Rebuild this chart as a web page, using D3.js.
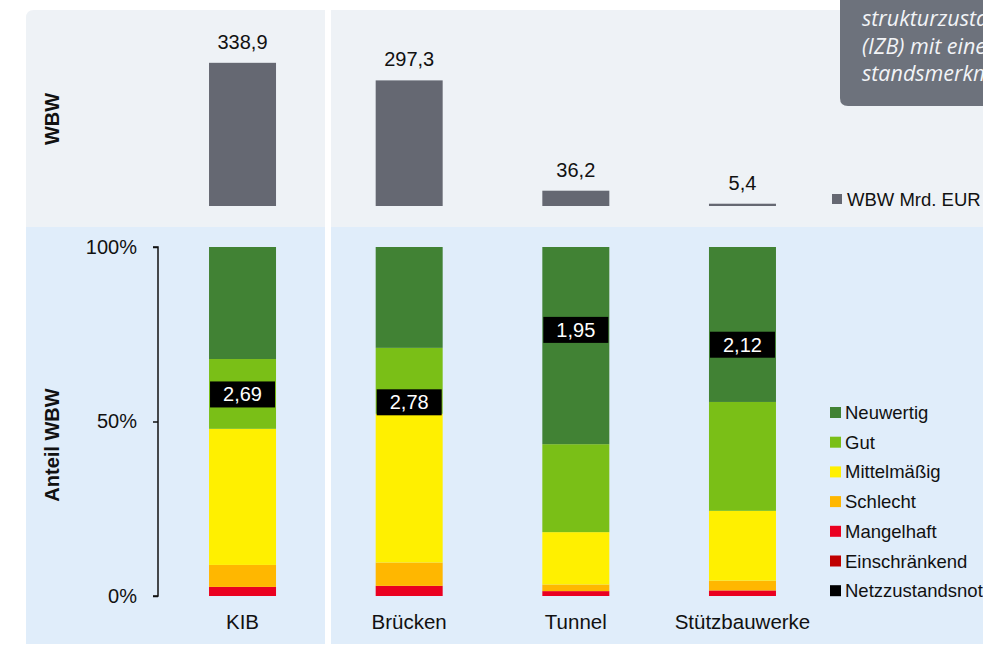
<!DOCTYPE html>
<html>
<head>
<meta charset="utf-8">
<script src="https://cdn.jsdelivr.net/npm/d3@7"></script>
<style>
  html, body { margin: 0; padding: 0; background: #fff; overflow: hidden; }
  svg { display: block; font-family: "Liberation Sans", Arial, sans-serif; }
</style>
</head>
<body>
<div class="chart"></div>
<script>
(function() {

	var width = 983,
		height = 646;

	// data
	var categories = ['KIB', 'Brücken', 'Tunnel', 'Stützbauwerke'];
	var wbw = [338.9, 297.3, 36.2, 5.4];
	var notes = [2.69, 2.78, 1.95, 2.12];

	var classes = ['Einschränkend', 'Mangelhaft', 'Schlecht', 'Mittelmäßig', 'Gut', 'Neuwertig'];
	var einschraenkend = [0, 0, 0, 0];
	var mangelhaft = [2.6, 2.9, 1.4, 1.6];
	var schlecht = [6.3, 6.7, 1.9, 2.8];
	var mittelmaessig = [39.0, 42.6, 15.0, 20.0];
	var gut = [20.0, 18.9, 25.2, 31.2];
	var neuwertig = [32.1, 28.9, 56.5, 44.4];

	var legendLabels = ['Neuwertig', 'Gut', 'Mittelmäßig', 'Schlecht', 'Mangelhaft', 'Einschränkend', 'Netzzustandsnote'];
	var yTicks = [0, 50, 100];
	var boxLines = ['strukturzustandsbericht', '(IZB) mit einer', 'standsmerkmalen'];

	var colors = {
		'Einschränkend': '#c00000',
		'Mangelhaft': '#ea0020',
		'Schlecht': '#ffb700',
		'Mittelmäßig': '#fff000',
		'Gut': '#7abf17',
		'Neuwertig': '#418234',
		'Netzzustandsnote': '#000000'
	};

	var series = [einschraenkend, mangelhaft, schlecht, mittelmaessig, gut, neuwertig];
	var rows = categories.map(function(c, i) {
		var r = {cat: c};
		classes.forEach(function(k, j) { r[k] = series[j][i]; });
		return r;
	});

	var svg = d3.select('.chart').append('svg')
			.attr('width', width)
			.attr('height', height);

	// panels
	var topY = 10, midY = 227, botY = 644, sepX = 325, sepW = 6;
	svg.append('path')
		.attr('d', 'M26,' + (topY + 8) + ' Q26,' + topY + ' 34,' + topY + ' H' + sepX + ' V' + midY + ' H26 Z')
		.attr('fill', '#eef2f6');
	svg.append('rect').attr('x', sepX + sepW).attr('y', topY)
		.attr('width', width - sepX - sepW).attr('height', midY - topY).attr('fill', '#eef2f6');
	svg.append('rect').attr('x', 26).attr('y', midY)
		.attr('width', sepX - 26).attr('height', botY - midY).attr('fill', '#e0edfa');
	svg.append('rect').attr('x', sepX + sepW).attr('y', midY)
		.attr('width', width - sepX - sepW).attr('height', botY - midY).attr('fill', '#e0edfa');

	// scales
	var x = d3.scaleBand()
		.domain(categories)
		.range([159.2, 825.8])
		.paddingInner(0.598)
		.paddingOuter(0.299);

	var yTop = d3.scaleLinear().domain([0, 400]).range([206, 37]);
	var y = d3.scaleLinear().domain([0, 100]).range([596, 247]);
	var yNote = d3.scaleLinear().domain([1, 5]).range([247, 596]);

	// WBW bars
	var gTop = svg.append('g').attr('class', 'wbw');
	gTop.selectAll('rect').data(wbw).enter().append('rect')
		.attr('x', function(d, i) { return x(categories[i]); })
		.attr('y', function(d) { return yTop(d); })
		.attr('width', x.bandwidth())
		.attr('height', function(d) { return Math.max(2, yTop(0) - yTop(d)); })
		.attr('fill', '#656872');
	gTop.selectAll('text').data(wbw).enter().append('text')
		.attr('x', function(d, i) { return x(categories[i]) + x.bandwidth() / 2; })
		.attr('y', function(d) { return yTop(d) - 14; })
		.attr('text-anchor', 'middle')
		.attr('font-size', 20)
		.attr('fill', '#111')
		.text(function(d) { return d3.format('.1f')(d).replace('.', ','); });

	// stacked bars
	var stack = d3.stack().keys(classes)(rows);
	var gStack = svg.append('g').attr('class', 'stack');
	gStack.selectAll('g').data(stack).enter().append('g')
		.attr('fill', function(d) { return colors[d.key]; })
		.selectAll('rect').data(function(d) { return d; }).enter().append('rect')
		.attr('x', function(d) { return x(d.data.cat); })
		.attr('y', function(d) { return y(d[1]); })
		.attr('width', x.bandwidth())
		.attr('height', function(d) { return y(d[0]) - y(d[1]); });

	// note labels
	var gNote = svg.append('g').attr('class', 'notes');
	gNote.selectAll('rect').data(notes).enter().append('rect')
		.attr('x', function(d, i) { return x(categories[i]) + 1; })
		.attr('y', function(d) { return yNote(d) - 13; })
		.attr('width', x.bandwidth() - 2)
		.attr('height', 26)
		.attr('fill', '#000');
	gNote.selectAll('text').data(notes).enter().append('text')
		.attr('x', function(d, i) { return x(categories[i]) + x.bandwidth() / 2; })
		.attr('y', function(d) { return yNote(d) + 7; })
		.attr('text-anchor', 'middle')
		.attr('font-size', 20)
		.attr('fill', '#fff')
		.text(function(d) { return d3.format('.2f')(d).replace('.', ','); });

	// y axis
	var yAxis = svg.append('g')
		.attr('transform', 'translate(158,0)')
		.call(d3.axisLeft(y).tickValues(yTicks).tickSize(5).tickPadding(16)
			.tickFormat(function(d) { return d + '%'; }));
	yAxis.select('.domain').attr('stroke', '#111').attr('stroke-width', 1.5)
		.attr('d', 'M-5,' + y(0) + 'H0V' + y(100) + 'H-5');
	yAxis.selectAll('.tick line').attr('stroke', '#111').attr('stroke-width', 1.5);
	yAxis.selectAll('.tick text')
		.attr('font-size', 20)
		.attr('font-family', '"Liberation Sans", Arial, sans-serif')
		.attr('fill', '#111');

	// category labels
	svg.append('g').selectAll('text').data(categories).enter().append('text')
		.attr('x', function(d) { return x(d) + x.bandwidth() / 2; })
		.attr('y', 629)
		.attr('text-anchor', 'middle')
		.attr('font-size', 20.5)
		.attr('fill', '#111')
		.text(function(d) { return d; });

	// axis titles
	svg.append('text')
		.attr('transform', 'translate(59,119) rotate(-90)')
		.attr('text-anchor', 'middle')
		.attr('font-size', 20).attr('font-weight', 'bold').attr('fill', '#111')
		.text('WBW');
	svg.append('text')
		.attr('transform', 'translate(59,445) rotate(-90)')
		.attr('text-anchor', 'middle')
		.attr('font-size', 20).attr('font-weight', 'bold').attr('fill', '#111')
		.text('Anteil WBW');

	// legends
	var topLeg = svg.append('g').attr('transform', 'translate(832,199)');
	topLeg.append('rect').attr('x', 0).attr('y', -5).attr('width', 10).attr('height', 10).attr('fill', '#656872');
	topLeg.append('text').attr('x', 15).attr('y', 6.5).attr('font-size', 18.5).attr('fill', '#111').text('WBW Mrd. EUR');

	var leg = svg.append('g').attr('class', 'legend')
		.selectAll('g').data(legendLabels).enter().append('g')
		.attr('transform', function(d, i) { return 'translate(830,' + (412.5 + i * 29.7) + ')'; });
	leg.append('rect').attr('x', 0).attr('y', -5.5).attr('width', 11).attr('height', 11)
		.attr('fill', function(d) { return colors[d]; });
	leg.append('text').attr('x', 15).attr('y', 6.5).attr('font-size', 18.5).attr('fill', '#111')
		.text(function(d) { return d; });

	// grey info box top right
	svg.append('path')
		.attr('d', 'M840,0 V98 Q840,106 848,106 H' + width + ' V0 Z')
		.attr('fill', '#6d727c');
	svg.append('g').selectAll('text').data(boxLines).enter().append('text')
		.attr('x', 862)
		.attr('y', function(d, i) { return 26 + i * 27.5; })
		.attr('font-family', '"Open Sans", sans-serif')
		.attr('font-style', 'italic')
		.attr('font-size', 21.5)
		.attr('fill', '#f2f4f7')
		.text(function(d) { return d; });

})();
</script>
</body>
</html>
